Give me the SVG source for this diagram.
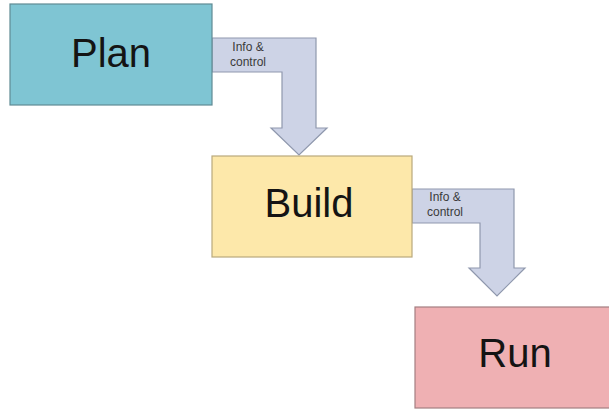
<svg xmlns="http://www.w3.org/2000/svg" width="609" height="409" viewBox="0 0 609 409">
<style>
.box{stroke-width:1.2}
.lbl{font-family:"Liberation Sans",Arial,sans-serif;font-size:40px;fill:#141414;text-anchor:middle}
.arrow{fill:#cdd3e6;stroke:#8f98ad;stroke-width:1.2}
.small{font-family:"Liberation Sans",Arial,sans-serif;font-size:12px;fill:#3a3a3a;text-anchor:middle}
</style>
<rect width="609" height="409" fill="#ffffff"/>
<g id="connectors">
<path class="arrow" d="M212,38 H316 V128 H327 L299,155 L271,128 H282 V72 H212 Z"/>
<text class="small" x="248" y="51">Info &amp;</text>
<text class="small" x="248" y="66">control</text>
<path class="arrow" d="M412,189 H514 V268 H525 L497,296 L469,268 H480 V223 H412 Z"/>
<text class="small" x="445" y="201">Info &amp;</text>
<text class="small" x="445" y="216">control</text>
</g>
<g id="plan">
<rect class="box" x="10" y="4" width="202" height="101" fill="#7fc5d3" stroke="#5f8b94"/>
<text class="lbl" x="111" y="67">Plan</text>
</g>
<g id="build">
<rect class="box" x="212" y="156" width="200" height="101" fill="#fde8aa" stroke="#b9a97c"/>
<text class="lbl" x="309" y="217">Build</text>
</g>
<g id="run">
<rect class="box" x="415" y="307" width="200" height="101" fill="#efb0b3" stroke="#a47f81"/>
<text class="lbl" x="515" y="367">Run</text>
</g>
</svg>
